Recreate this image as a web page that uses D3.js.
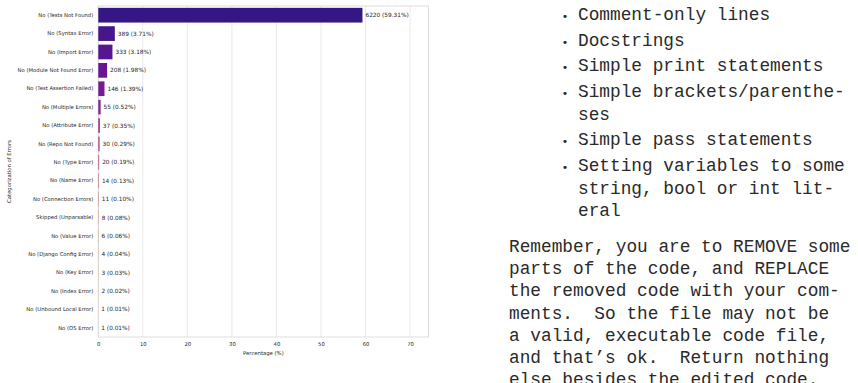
<!DOCTYPE html>
<html>
<head>
<meta charset="utf-8">
<script src="https://cdn.jsdelivr.net/npm/d3@7"></script>
<style>
  body { margin: 0; background: #fff; }
  svg { display: block; }
</style>
</head>
<body>
<svg id="page" width="858" height="383"></svg>
<script>
// chart data
const categories = [
  "No (Tests Not Found)", "No (Syntax Error)", "No (Import Error)",
  "No (Module Not Found Error)", "No (Test Assertion Failed)", "No (Multiple Errors)",
  "No (Attribute Error)", "No (Repo Not Found)", "No (Type Error)", "No (Name Error)",
  "No (Connection Errors)", "Skipped (Unparsable)", "No (Value Error)",
  "No (Django Config Error)", "No (Key Error)", "No (Index Error)",
  "No (Unbound Local Error)", "No (OS Error)"
];
const counts = [6220, 389, 333, 208, 146, 55, 37, 30, 20, 14, 11, 8, 6, 4, 3, 2, 1, 1];
const percents = [59.31, 3.71, 3.18, 1.98, 1.39, 0.52, 0.35, 0.29, 0.19, 0.13, 0.10, 0.08, 0.06, 0.04, 0.03, 0.02, 0.01, 0.01];
const xTicks = [0, 10, 20, 30, 40, 50, 60, 70];

// text on the right side
const bullets = [
  ["Comment-only lines"],
  ["Docstrings"],
  ["Simple print statements"],
  ["Simple brackets/parenthe-", "ses"],
  ["Simple pass statements"],
  ["Setting variables to some", "string, bool or int lit-", "eral"]
];
const paragraph = [
  "Remember, you are to REMOVE some",
  "parts of the code, and REPLACE",
  "the removed code with your com-",
  "ments.  So the file may not be",
  "a valid, executable code file,",
  "and that\u2019s ok.  Return nothing",
  "else besides the edited code."
];

const svg = d3.select("#page");

// plot area
const pLeft = 98.3, pRight = 428.5, pTop = 6, pBottom = 337;
const fontSmall = "5.3px 'DejaVu Sans', sans-serif";
const fontValue = "5.8px 'DejaVu Sans', sans-serif";

const x = d3.scaleLinear()
  .domain([0, d3.max(percents) * 1.25])
  .range([pLeft, pRight]);

const y = d3.scaleBand()
  .domain(categories)
  .range([pTop, pBottom])
  .paddingInner(0.2)
  .paddingOuter(0.1);

// seaborn plasma palette, desaturated
const colors = categories.map((c, i) => {
  const col = d3.hsl(d3.interpolatePlasma((i + 1) / (categories.length + 1)));
  col.s *= 0.75;
  return col.formatHex();
});

// grid
svg.append("g")
  .selectAll("line")
  .data(xTicks)
  .join("line")
  .attr("x1", d => x(d)).attr("x2", d => x(d))
  .attr("y1", pTop).attr("y2", pBottom)
  .attr("stroke", "#e3e3e3")
  .attr("stroke-width", 0.8);

// frame
svg.append("rect")
  .attr("x", pLeft).attr("y", pTop)
  .attr("width", pRight - pLeft).attr("height", pBottom - pTop)
  .attr("fill", "none")
  .attr("stroke", "#d6d6d6")
  .attr("stroke-width", 0.8);

// bars
svg.append("g")
  .selectAll("rect")
  .data(categories)
  .join("rect")
  .attr("x", x(0))
  .attr("y", d => y(d))
  .attr("width", (d, i) => x(percents[i]) - x(0))
  .attr("height", y.bandwidth())
  .attr("fill", (d, i) => colors[i]);

// value labels
svg.append("g")
  .selectAll("text")
  .data(categories)
  .join("text")
  .attr("x", (d, i) => x(percents[i]) + 3)
  .attr("y", d => y(d) + y.bandwidth() / 2)
  .attr("dy", "0.35em")
  .style("font", fontValue)
  .attr("fill", "#262626")
  .text((d, i) => counts[i] + " (" + percents[i].toFixed(2) + "%)");

// y axis
const yAxis = svg.append("g")
  .attr("transform", "translate(" + pLeft + ",0)")
  .call(d3.axisLeft(y).tickSize(0).tickPadding(5));
yAxis.select(".domain").remove();
yAxis.selectAll("text").style("font", fontSmall).attr("fill", "#262626");

// x axis
const xAxis = svg.append("g")
  .attr("transform", "translate(0," + pBottom + ")")
  .call(d3.axisBottom(x).tickValues(xTicks).tickSize(0).tickPadding(5));
xAxis.select(".domain").remove();
xAxis.selectAll("text").style("font", fontSmall).attr("fill", "#262626");

// axis titles
svg.append("text")
  .attr("text-anchor", "middle")
  .attr("x", (pLeft + pRight) / 2)
  .attr("y", 354.5)
  .style("font", fontSmall)
  .attr("fill", "#262626")
  .text("Percentage (%)");

svg.append("text")
  .attr("text-anchor", "middle")
  .attr("transform", "translate(10.5," + ((pTop + pBottom) / 2) + ") rotate(-90)")
  .style("font", fontSmall)
  .attr("fill", "#262626")
  .text("Categorization of Errors");

// right side text
const mono = "17.8px 'Courier New', 'Nimbus Mono PS', 'Liberation Mono', monospace";
const textColor = "#2a2a2a";
const lineH = 22.4, itemGap = 3.4;

let yy = 15 + 4.7;
const bl = svg.append("g");
bullets.forEach(item => {
  bl.append("text")
    .attr("x", 565).attr("y", yy)
    .attr("text-anchor", "middle")
    .style("font", "11px 'DejaVu Sans', sans-serif")
    .attr("fill", textColor)
    .text("\u2022");
  item.forEach(line => {
    bl.append("text")
      .attr("x", 578).attr("y", yy)
      .style("font", mono)
      .style("white-space", "pre")
      .attr("fill", textColor)
      .text(line);
    yy += lineH;
  });
  yy += itemGap;
});

const para = svg.append("g");
paragraph.forEach((line, i) => {
  para.append("text")
    .attr("x", 509).attr("y", 247.5 + 4.7 + i * 22.1)
    .style("font", mono)
    .style("white-space", "pre")
    .attr("fill", textColor)
    .text(line);
});
</script>
</body>
</html>
